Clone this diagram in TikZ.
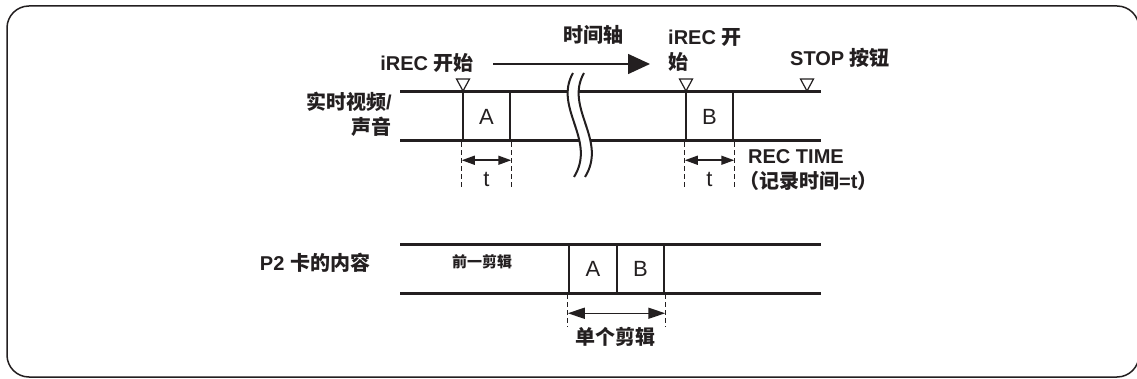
\documentclass[tikz,border=0pt]{standalone}
\usepackage{fontspec}
\setmainfont{Liberation Sans}
\newfontfamily\zhfont{Noto Sans CJK SC}
\newcommand{\zh}[1]{{\zhfont #1}}
\definecolor{Ink}{RGB}{35,31,32}
\usetikzlibrary{arrows.meta}

\begin{document}
\begin{tikzpicture}[x=1pt, y=-1pt,
    every node/.style={inner sep=0pt, text=Ink},
    lbl/.style={font=\bfseries\fontsize{20}{25}\selectfont},
    track/.style={draw=Ink, line width=3pt},
    clipbox/.style={draw=Ink, line width=2.5pt, minimum width=47pt, minimum height=49pt, font=\fontsize{22}{26}\selectfont},
    cue/.style={draw=Ink, line width=1.2pt, fill=white},
    guide/.style={draw=Ink, line width=1.2pt, dash pattern=on 5pt off 3pt},
    span/.style={draw=Ink, line width=1.5pt, {Triangle[length=13pt,width=9pt]}-{Triangle[length=13pt,width=9pt]}}
]
\useasboundingbox (0,0) rectangle (1137,379);
% Cadru
\draw[Ink, line width=1.5pt, rounded corners=22pt] (7,6) rectangle (1139,377);

% Semnal live
\node[clipbox] (liveA) at (486.5,116.5) {A};
\node[clipbox] (liveB) at (709.5,116.5) {B};
\draw[track] (400,92) -- (821,92) (400,141) -- (821,141);
\node[lbl, align=right, anchor=east] (liveLbl) at (392,114) {\zh{实时视频}/\\\zh{声音}};

% Intrerupere
\fill[white] (573,73) .. controls (553,108) and (597,140) .. (574,177) -- (585,177) .. controls (608,140) and (564,108) .. (584,73) -- cycle;
\draw[Ink, line width=2pt] (573,73) .. controls (553,108) and (597,140) .. (574,177)
    (584,73) .. controls (564,108) and (608,140) .. (585,177);

% Marcaje
\foreach \x in {463, 686, 807}
    \draw[cue] (\x-6.5,79) -- (\x+6.5,79) -- (\x,91) -- cycle;

% Durata t
\coordinate (liveEnd) at (0,188);
\foreach \b in {liveA, liveB} {
    \draw[guide] (\b.south west) -- (\b.south west |- liveEnd);
    \draw[guide] (\b.south east) -- (\b.south east |- liveEnd);
    \draw[span] ([yshift=-18pt]\b.south west) -- ([yshift=-18pt]\b.south east);
    \node[font=\fontsize{22}{26}\selectfont] at ([yshift=-37pt]\b.south) {t};
}

% Etichete sus
\node[lbl] (startA) at (427,63) {iREC \zh{开始}};
\node[lbl] (axisLbl) at (593,35) {\zh{时间轴}};
\coordinate (axisL) at (493,64);
\coordinate (axisR) at (650,64);
\draw[Ink, line width=1.5pt, -{Triangle[length=22pt,width=20pt]}] (axisL) -- (axisR);
\node[lbl, align=left, anchor=west] (startB) at (668,50) {iREC \zh{开}\\\zh{始}};
\node[lbl] (stopLbl) at (840,58) {STOP \zh{按钮}};
\node[lbl, align=left, anchor=west] (recLbl) at (748,170.5) {REC TIME\\\hspace*{-9pt}\zh{（记录时间}=t\zh{）}};

% Card P2
\node[lbl] (cardLbl) at (315,263) {P2 \zh{卡的内容}};
\node[clipbox, minimum width=48pt, minimum height=48pt] (cardA) at (593,269) {A};
\node[clipbox, minimum width=47pt, minimum height=48pt] (cardB) at (640.5,269) {B};
\draw[track] (400,245) -- (821,245) (400,293) -- (821,293);
\node[font=\bfseries\fontsize{15}{18}\selectfont] (prevLbl) at (482,262) {\zh{前一剪辑}};
\coordinate (cardEnd) at (0,327);
\draw[guide] (cardA.south west) -- (cardA.south west |- cardEnd);
\draw[guide] (cardB.south east) -- (cardB.south east |- cardEnd);
\draw[span, {Triangle[length=17pt,width=11pt]}-{Triangle[length=17pt,width=11pt]}] ([yshift=-19pt]cardA.south west) -- ([yshift=-19pt]cardB.south east);
\node[lbl] (oneClip) at (615,337) {\zh{单个剪辑}};
\end{tikzpicture}
\end{document}
